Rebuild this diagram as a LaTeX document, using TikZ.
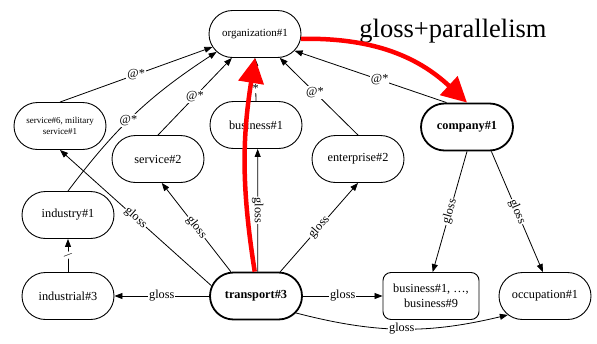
\documentclass[tikz,border=0pt]{standalone}
\usepackage{fontspec}
\setmainfont{Liberation Serif}
\usetikzlibrary{arrows.meta,shapes.misc}

\begin{document}
\begin{tikzpicture}[x=1pt, y=-1pt, >={Triangle[length=8pt,width=6pt]}, font=\fontsize{12.3}{14}\selectfont]
    \tikzstyle{node_style} = [rounded rectangle, draw=black, line width=0.9pt, minimum width=96pt, minimum height=47pt, inner sep=2pt]
    \tikzstyle{node_main} = [node_style, line width=1.8pt, font=\fontsize{12.3}{14}\selectfont\bfseries]
    \tikzstyle{node_box} = [rectangle, rounded corners=8pt, draw=black, line width=0.9pt, minimum width=96pt, minimum height=47pt, align=center, font=\fontsize{12.3}{15}\selectfont]
    \tikzstyle{edge_style} = [draw=black, line width=0.8pt, ->]
    \tikzstyle{path_style} = [draw=red, line width=4.5pt, -{Triangle[length=25pt,width=25pt]}]
    \tikzstyle{label_style} = [fill=white, inner sep=1pt]
    \tikzstyle{label_at} = [label_style, font=\fontsize{12.3}{14}\selectfont]
    \useasboundingbox (0,0) rectangle (597,343);

    \node[node_style, font=\fontsize{11}{13}\selectfont] (org) at (255,34) {organization\#1};
    \node[node_style, align=center, font=\fontsize{9}{11}\selectfont] (svc6) at (60,126) {service\#6, military\\service\#1};
    \node[node_style] (svc2) at (158,159) {service\#2};
    \node[node_style] (bus1) at (256,125) {business\#1};
    \node[node_style] (ent2) at (358,159) {enterprise\#2};
    \node[node_main] (comp) at (467,127) {company\#1};
    \node[node_style] (ind1) at (68,215) {industry\#1};
    \node[node_style] (indl3) at (68,296) {industrial\#3};
    \node[node_main] (trans) at (256,296) {transport\#3};
    \node[node_box] (busall) at (431,296) {business\#1, …,\\business\#9};
    \node[node_style] (occ) at (545,296) {occupation\#1};

    \node[font=\fontsize{26.5}{30}\selectfont] (title) at (453,31) {gloss+parallelism};

    % @* edges into organization#1
    \draw[edge_style] (svc6.north) -- node[label_at] {@*} (org.197);
    \draw[edge_style] (ind1.north) to[bend left=10] node[label_at, pos=0.45] {@*} (org.205);
    \draw[edge_style] (svc2.north) -- node[label_at] {@*} (org.226);
    \draw[edge_style] (bus1.north) -- node[label_at, pos=0.3] {*} (org.south);
    \draw[edge_style] (ent2.north) -- node[label_at, pos=0.55] {@*} (org.316);
    \draw[edge_style] (comp.130) -- node[label_at, pos=0.44] {@*} (org.337);

    % gloss edges
    \draw[edge_style] (trans.167) -- node[label_style, sloped] {gloss} (svc6.south);
    \draw[edge_style] (trans.136) -- node[label_style, sloped] {gloss} (svc2.279);
    \draw[edge_style] (trans.86) -- node[label_style, sloped] {gloss} (bus1.274);
    \draw[edge_style] (trans.45) -- node[label_style, sloped] {gloss} (ent2.south);
    \draw[edge_style] (comp.south) -- node[label_style, sloped] {gloss} (busall.86);
    \draw[edge_style] (comp.315) -- node[label_style, sloped] {gloss} (occ.95);
    \draw[edge_style] (trans.west) -- node[label_style] {gloss} (indl3.east);
    \draw[edge_style] (indl3.north) -- node[label_at, rotate=-50] {/} (ind1.south);
    \draw[edge_style] (trans.east) -- node[label_style] {gloss} (busall.west);
    \draw[edge_style] (trans.337) to[bend right=14] node[label_style] {gloss} (occ.207);

    % red path
    \draw[path_style] (trans.93) to[bend left=9] (org.south);
    \draw[path_style] (org.354) to[bend left=22] (comp.north);
\end{tikzpicture}
\end{document}
